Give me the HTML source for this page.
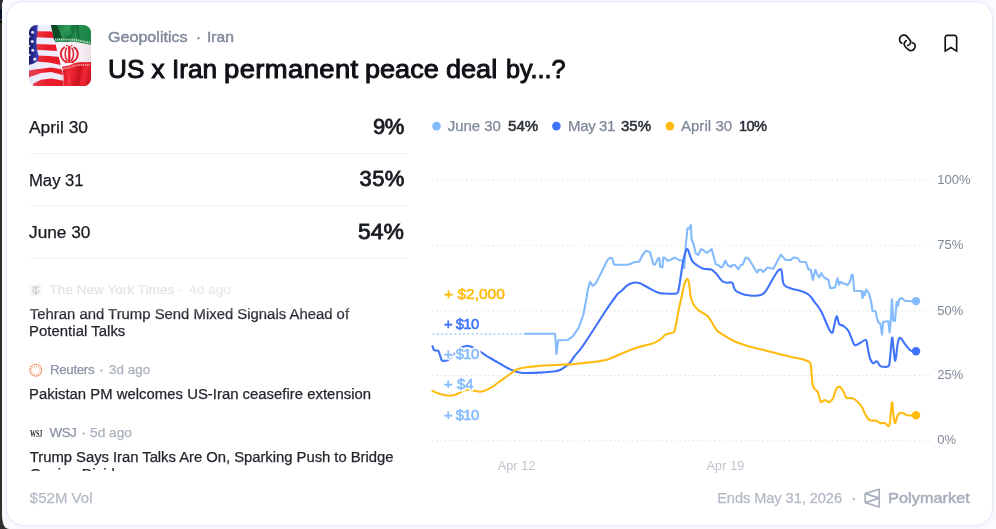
<!DOCTYPE html>
<html lang="en">
<head>
<meta charset="utf-8">
<title>US x Iran permanent peace deal by...?</title>
<style>
html,body{margin:0;padding:0;}
body{width:996px;height:529px;overflow:hidden;position:relative;background:#fafbfe;font-family:"Liberation Sans",Arial,sans-serif;}
.edge{position:absolute;left:0;top:0;width:2.2px;height:529px;background:#2f2f2f;}
.edge i{position:absolute;left:0;width:2.2px;display:block;}
.card{position:absolute;left:5.8px;top:0.8px;width:985px;height:523.4px;border:1.2px solid #e6e9f8;border-radius:18px;background:#fff;box-shadow:0 0 4px rgba(225,230,248,0.5);}
.t{position:absolute;white-space:nowrap;line-height:1;transform-origin:0 0;}
.chart{position:absolute;left:0;top:0;}
.div{position:absolute;left:29.5px;width:376.5px;height:1.2px;background:#eef0f4;}
.news{position:absolute;left:0;top:272px;width:420px;height:199px;overflow:hidden;-webkit-mask-image:linear-gradient(to bottom,rgba(0,0,0,0.18) 0,rgba(0,0,0,0.3) 26px,#000 44px,#000 100%);mask-image:linear-gradient(to bottom,rgba(0,0,0,0.18) 0,rgba(0,0,0,0.3) 26px,#000 44px,#000 100%);}
.newsin{position:absolute;left:0;top:0;width:420px;height:230px;}
.ic{position:absolute;}
.g{margin:0;padding:0;font:inherit;font-family:inherit;display:block;height:0;}
</style>
</head>
<body>
<div class="card"></div>
<div class="edge"><i style="top:9px;height:10px;background:#0a1630"></i><i style="top:20.5px;height:2px;background:#050505"></i></div>
<svg class="chart" width="996" height="529" viewBox="0 0 996 529">
<!-- bottom-left dark window corner -->
<path d="M0 517 Q0.5 529 9 529 L0 529 Z" fill="#2f2f2f"/>
<path d="M0 0 L3.2 0 L2.2 3.4 L0 3.4 Z" fill="#303030"/>
<path d="M2 515 L2 529 L9 529 Q2.5 529 2 515 Z" fill="#2f2f2f"/>
</svg>
<!-- FLAG -->
<svg class="ic" style="left:28.8px;top:24.8px" width="62" height="61.3" viewBox="0 0 62 61.3">
<defs>
<clipPath id="fc"><rect x="0" y="0" width="62" height="61.3" rx="7.6" ry="7.6"/></clipPath>
<filter id="fb" x="-5%" y="-5%" width="110%" height="110%"><feGaussianBlur stdDeviation="0.5"/></filter>
<filter id="fb2" x="-20%" y="-20%" width="140%" height="140%"><feGaussianBlur stdDeviation="0.3"/></filter>
<linearGradient id="gsh" x1="0" x2="1" y1="0" y2="0"><stop offset="0" stop-color="#b9b4e8" stop-opacity="0.25"/><stop offset="0.5" stop-color="#fff" stop-opacity="0"/><stop offset="0.8" stop-color="#8a3050" stop-opacity="0"/><stop offset="1" stop-color="#7a2040" stop-opacity="0.28"/></linearGradient>
<linearGradient id="ggr" x1="0" x2="1" y1="0" y2="0.25"><stop offset="0" stop-color="#0a4a25"/><stop offset="0.16" stop-color="#1b7a43"/><stop offset="0.4" stop-color="#2a9556"/><stop offset="0.56" stop-color="#17703c"/><stop offset="0.7" stop-color="#25904f"/><stop offset="1" stop-color="#1d8448"/></linearGradient>
<linearGradient id="grd" x1="0" x2="1" y1="0" y2="0.2"><stop offset="0" stop-color="#e21a27"/><stop offset="0.35" stop-color="#f02634"/><stop offset="0.55" stop-color="#d81825"/><stop offset="0.8" stop-color="#ee2633"/><stop offset="1" stop-color="#c81422"/></linearGradient>
<linearGradient id="gwh" x1="0" x2="1" y1="0" y2="0.2"><stop offset="0" stop-color="#efe6f0"/><stop offset="0.3" stop-color="#fbf6fa"/><stop offset="0.8" stop-color="#f6edf3"/><stop offset="1" stop-color="#ecdfe8"/></linearGradient>
<linearGradient id="gbl" x1="0" x2="1" y1="0" y2="0"><stop offset="0" stop-color="#10145a"/><stop offset="0.55" stop-color="#262a8c"/><stop offset="1" stop-color="#4747c4"/></linearGradient>
</defs>
<g clip-path="url(#fc)"><g filter="url(#fb)">
<rect x="-2" y="-2" width="66" height="66" fill="#efedfb"/>
<path d="M7 6.2 L24 6.6 L25 12.9 L7 12.2 Z" fill="#ea1c29" opacity="1"/><path d="M6.5 18.9 L27 19.7 L28.5 26.1 L6.5 24.7 Z" fill="#ea1c29" opacity="1"/><path d="M8 30.6 L20 31 L34 32.2 L34 40.5 L20 37.4 L9 36.8 Z" fill="#ea1c29" opacity="1"/><path d="M-1 45.8 L6 44.6 L12 43.7 L22 42.5 L28 43.4 L36 45.2 L36 50.6 L28 48.6 L22 47.0 L12 48.0 L6 50.2 L-1 52.4 Z" fill="#ea1c29" opacity="1"/><path d="M2 61.5 L5 58.3 L12 54.7 L22 53.4 L28 54.6 L37 56.2 L37 66 L2 66 Z" fill="#ea1c29" opacity="1"/>
<rect x="-2" y="-2" width="40" height="66" fill="url(#gsh)"/>
<path d="M-2 -2 L8.8 -2 L8.3 8 L7.3 16 L7.9 24 L9.6 31 L9 36 L4 38.8 L-2 40.6 Z" fill="url(#gbl)"/>
<circle cx="3.6" cy="7.2" r="1.5" fill="#fff" opacity="0.85"/><circle cx="3.2" cy="16.5" r="1.6" fill="#fff" opacity="0.85"/><circle cx="3.8" cy="25.2" r="1.5" fill="#fff" opacity="0.85"/><circle cx="5.8" cy="34.2" r="1.6" fill="#fff" opacity="0.85"/><circle cx="0.4" cy="11.5" r="1.1" fill="#fff" opacity="0.85"/><circle cx="0.3" cy="21" r="1.1" fill="#fff" opacity="0.85"/><circle cx="0.6" cy="30" r="1.1" fill="#fff" opacity="0.85"/>
<!-- iran -->
<path d="M21.6 -2 L64 -2 L64 64 L34.4 64 L34.7 52 L32.3 43.3 L30.7 35.4 L28.2 26.4 L26.4 17.3 L24.3 11.2 Z" fill="url(#gwh)"/>
<path d="M21.6 -2 L64 -2 L64 19.6 L60 19.4 L46 16.8 L30 17.0 L26.3 17.2 L24.3 11.2 Z" fill="url(#ggr)"/>
<path d="M21.6 -2 L27 -2 L30.5 6 L33 13 L25 15.5 Z" fill="#06351a" opacity="0.7"/>
<path d="M47.2 -2 L49.2 -2 L50.6 13.5 L48.8 13.5 Z" fill="#0a4a24" opacity="0.55"/>
<path d="M36 2 L41 0 L43 9 L38 11 Z" fill="#38a866" opacity="0.45"/>
<path d="M26 14.6 L30 14.4 L46 14.8 L61 17.8" fill="none" stroke="#d6eadb" stroke-width="1.9" stroke-dasharray="1.2 0.7" opacity="0.85"/>
<path d="M33.2 41.8 L40 40.5 L45 38.3 L50 37.2 L64 36.9 L64 64 L34.4 64 L34.7 52 Z" fill="url(#grd)"/>
<path d="M50 42 L53 41 L50 64 L46 64 Z" fill="#b50e1b" opacity="0.45"/>
<path d="M38 47 L40 46 L43 64 L40 64 Z" fill="#ff5560" opacity="0.35"/>
<path d="M33.6 44 L40 42.6 L45 40.7 L50 39.9 L61 40.1" fill="none" stroke="#f7b3b8" stroke-width="1.7" stroke-dasharray="1.2 0.7" opacity="0.9"/>
</g>
<!-- emblem -->
<g fill="none" stroke="#e51f2c" stroke-linecap="round" filter="url(#fb2)">
<path d="M40.3 22.6 V36.4" stroke-width="2.3"/>
<path d="M37.6 23.2 C35.6 26 35.4 31.5 38.2 35.6" stroke-width="1.5"/>
<path d="M43.0 23.2 C45.0 26 45.2 31.5 42.4 35.6" stroke-width="1.5"/>
<path d="M35.2 22.4 C30.4 26 30.6 33.6 37.0 36.9" stroke-width="1.9"/>
<path d="M45.4 22.4 C50.2 26 50.0 33.6 43.6 36.9" stroke-width="1.9"/>
<path d="M37.6 20.4 C39 21.6 41.6 21.6 43 20.4" stroke-width="1.2"/>
<path d="M36.4 37.3 H44.6" stroke-width="1.0"/>
</g>
</g>
</svg>
<!-- ICONS -->
<svg class="chart" width="996" height="529" viewBox="0 0 996 529">
<g fill="none" stroke="#121317" stroke-width="1.65" stroke-linecap="round" stroke-linejoin="round">
<path d="M901.86 43.26 C901.31 42.77 900.94 42.95 900.20 41.80 C899.46 40.65 899.75 41.12 899.65 39.82 C899.55 38.52 899.49 39.05 899.90 37.90 C900.31 36.75 900.11 37.18 900.88 36.38 C901.65 35.58 901.22 35.91 902.20 35.50 C903.18 35.09 902.75 35.19 903.82 35.16 C904.89 35.13 904.42 34.99 905.40 35.40 C906.38 35.81 905.17 34.66 906.77 36.38 C908.37 38.10 908.95 38.69 910.21 40.56 C911.47 42.43 910.47 41.22 910.55 42.00 C910.63 42.78 910.73 42.15 910.45 42.90 C910.17 43.65 910.62 43.38 909.72 44.24 C908.82 45.10 908.41 45.06 907.75 45.47"/>
<path d="M906.28 40.56 C905.71 41.21 905.25 41.51 904.56 42.52 C903.87 43.53 904.28 42.86 904.20 43.60 C904.12 44.34 903.94 43.70 904.31 44.73 C904.68 45.76 903.99 45.14 905.30 46.70 C906.61 48.26 906.81 48.20 908.24 49.40 C909.67 50.60 908.62 49.92 909.60 50.30 C910.58 50.68 910.16 50.56 911.19 50.53 C912.22 50.50 911.80 50.66 912.70 50.20 C913.60 49.74 913.19 49.95 913.89 49.15 C914.59 48.35 914.39 48.78 914.80 47.80 C915.21 46.82 915.09 47.18 915.12 46.21 C915.15 45.24 915.15 45.72 914.90 44.90 C914.65 44.08 915.21 44.49 914.38 43.75 C913.55 43.01 913.07 43.03 912.42 42.67"/>
</g>
<path d="M945.2 51.1 V37.5 a2.1 2.1 0 0 1 2.1-2.1 H954.55 a2.1 2.1 0 0 1 2.1 2.1 V51.1 L950.9 47.5 Z" fill="none" stroke="#121317" stroke-width="1.65" stroke-linejoin="miter" stroke-miterlimit="3"/>
<!-- legend dots -->
<circle cx="436.5" cy="126.1" r="4.3" fill="#84bbfd"/>
<circle cx="556.4" cy="126.1" r="4.3" fill="#3f73fb"/>
<circle cx="669.9" cy="126.1" r="4.3" fill="#ffbb0f"/>
<!-- polymarket logo -->
<g fill="none" stroke="#a9b0bd" stroke-width="1.7" stroke-linejoin="round">
<path d="M865.2 493.6 L879.2 489.3 V507 L865.2 502.6 Z"/>
<path d="M865.2 493.6 L879.2 498.1 L865.2 502.6"/>
</g>
</svg>
<div class="div" style="top:152.5px"></div>
<div class="div" style="top:205px"></div>
<div class="div" style="top:257.6px"></div>

<svg class="chart" width="996" height="529" viewBox="0 0 996 529">
<line x1="431.8" x2="929" y1="180.3" y2="180.3" stroke="#d3d7df" stroke-width="1.05" stroke-dasharray="1.05 3.3"/>
<line x1="431.8" x2="929" y1="245.7" y2="245.7" stroke="#d3d7df" stroke-width="1.05" stroke-dasharray="1.05 3.3"/>
<line x1="431.8" x2="929" y1="311.0" y2="311.0" stroke="#d3d7df" stroke-width="1.05" stroke-dasharray="1.05 3.3"/>
<line x1="431.8" x2="929" y1="375.4" y2="375.4" stroke="#d3d7df" stroke-width="1.05" stroke-dasharray="1.05 3.3"/>
<line x1="431.8" x2="929" y1="440.7" y2="440.7" stroke="#d3d7df" stroke-width="1.05" stroke-dasharray="1.05 3.3"/>
<line x1="432.5" x2="525" y1="333.8" y2="333.8" stroke="#84bbfd" stroke-width="1.8" stroke-dasharray="2 2.35" opacity="0.6"/>
<path d="M525.0 333.8 L555.0 333.8 L555.6 340.0 L556.4 354.0 L557.3 347.0 L558.2 340.5 L560.0 340.3 L567.5 340.0 L572.5 336.7 L578.3 328.3 L583.3 315.0 L586.0 301.0 L587.8 290.0 L590.0 281.7 L592.5 285.8 L595.8 283.3 L601.7 271.7 L607.5 260.0 L610.0 257.7 L612.0 258.0 L614.2 264.7 L628.3 264.7 L635.0 262.0 L639.2 261.7 L642.5 255.0 L645.8 250.8 L650.0 252.0 L653.3 264.2 L655.0 264.7 L658.3 258.0 L659.5 258.3 L660.2 267.0 L662.5 267.3 L663.3 257.5 L665.0 258.0 L667.5 260.8 L670.8 259.7 L675.0 257.5 L678.3 259.7 L682.5 260.8 L684.2 268.3 L685.8 245.0 L687.5 228.3 L689.2 228.7 L690.8 225.0 L691.7 240.0 L693.3 243.3 L695.8 253.3 L698.3 255.0 L700.8 249.2 L703.3 250.0 L706.7 253.0 L711.7 249.2 L715.8 264.2 L718.3 265.0 L720.8 267.5 L722.5 266.7 L725.3 260.8 L727.5 265.0 L730.8 267.0 L732.5 265.0 L735.0 265.0 L738.3 269.2 L740.8 265.0 L742.5 264.7 L745.8 257.5 L748.3 258.3 L752.5 265.0 L755.0 269.2 L757.0 272.5 L759.2 269.7 L761.3 269.7 L763.3 272.0 L767.5 267.5 L773.3 268.7 L776.7 262.5 L780.8 254.7 L783.3 257.5 L785.8 260.0 L790.8 260.0 L793.3 257.5 L797.5 258.0 L800.0 261.7 L805.8 262.0 L808.3 269.2 L810.8 270.0 L812.8 280.0 L815.3 269.7 L817.5 275.0 L819.2 277.5 L821.3 273.0 L824.2 277.5 L828.3 279.7 L830.3 288.3 L835.0 287.5 L837.5 278.3 L839.2 285.0 L840.0 281.7 L843.3 283.3 L845.8 284.2 L847.5 285.0 L850.0 281.7 L851.7 274.7 L852.8 275.0 L854.2 290.8 L861.7 291.0 L862.5 298.3 L863.9 292.0 L864.8 295.0 L866.3 289.5 L868.8 293.0 L871.0 301.0 L872.5 310.8 L875.8 311.7 L876.7 316.7 L878.3 322.5 L880.3 323.3 L882.0 334.7 L883.3 321.7 L888.3 321.3 L889.7 332.5 L890.8 320.0 L892.0 299.2 L893.3 320.8 L895.0 320.8 L896.7 301.7 L898.0 305.8 L899.2 299.2 L901.7 298.0 L905.0 300.8 L911.7 301.2 L916.0 301.1" fill="none" stroke="#84bbfd" stroke-width="2.1" stroke-linejoin="round" stroke-linecap="round"/>
<path d="M432.5 346.2 C432.8 346.9 433.3 348.9 434.0 349.8 C434.5 350.5 435.0 350.4 435.8 350.6 C436.6 350.8 437.4 350.0 438.2 350.8 C439.0 351.6 439.2 352.8 439.8 354.5 C440.5 356.4 440.9 359.0 441.8 360.3 C442.5 361.3 443.3 360.8 444.5 360.8 C445.7 360.8 446.5 361.0 447.7 360.2 C449.2 359.2 450.1 357.9 452.0 356.0 C454.5 353.6 457.4 350.0 460.0 348.0 C461.9 346.6 463.3 346.6 465.0 346.2 C466.5 345.8 467.0 345.7 468.5 346.0 C470.3 346.4 471.7 346.8 474.0 348.0 C476.6 349.3 478.3 350.6 481.7 352.7 C485.1 354.8 487.2 356.2 491.0 358.5 C494.8 360.8 497.2 362.1 500.6 364.0 C503.9 365.9 505.0 366.7 508.0 368.2 C511.0 369.7 512.7 370.6 515.7 371.6 C518.7 372.6 519.7 372.9 523.0 373.0 C527.9 373.2 533.5 373.0 540.0 372.6 C546.5 372.2 551.4 371.7 555.4 371.2 C557.5 370.9 558.1 370.9 560.0 370.0 C561.9 369.1 563.0 368.4 565.0 366.9 C567.0 365.4 568.1 364.6 570.0 362.5 C571.9 360.4 572.3 359.1 574.3 356.5 C576.6 353.5 578.6 351.8 581.7 347.5 C585.5 342.2 588.6 337.2 593.3 330.0 C598.0 322.8 601.5 317.1 605.0 311.7 C607.6 307.7 609.0 305.8 611.0 303.0 C612.8 300.5 613.5 299.4 615.0 297.5 C616.4 295.6 616.8 294.8 618.3 293.3 C619.8 291.8 620.8 291.5 622.5 290.0 C624.2 288.5 625.0 287.1 626.7 285.8 C628.4 284.5 629.2 284.2 631.0 283.5 C632.8 282.8 634.0 282.5 635.8 282.5 C637.6 282.5 638.5 282.8 640.0 283.3 C641.5 283.8 641.8 284.2 643.3 285.0 C644.9 285.8 646.0 286.4 648.0 287.5 C650.0 288.6 651.4 289.4 653.3 290.4 C655.2 291.3 655.8 291.7 657.5 292.3 C659.2 292.9 659.7 293.3 661.7 293.4 C665.5 293.6 673.3 294.3 676.7 293.4 C678.8 292.9 678.2 291.1 678.7 289.0 C679.5 285.9 679.7 282.8 680.5 278.0 C681.3 273.2 681.7 269.4 682.5 265.0 C683.2 260.9 683.6 258.8 684.3 256.0 C684.9 253.6 685.2 252.2 685.8 250.8 C686.2 249.8 686.8 248.7 687.5 249.2 C688.2 249.7 688.5 251.4 689.2 253.3 C690.0 255.5 690.7 258.1 691.7 260.0 C692.5 261.5 693.0 262.0 694.0 263.0 C695.0 264.0 695.5 264.2 696.7 265.0 C697.9 265.8 698.7 266.5 700.0 267.2 C701.3 267.9 701.7 268.4 703.3 268.7 C705.6 269.2 709.6 269.1 711.7 269.7 C713.0 270.0 713.0 270.6 714.0 271.5 C715.0 272.4 715.7 273.0 716.7 274.2 C717.7 275.4 718.0 276.0 719.0 277.3 C720.0 278.6 720.8 279.6 721.7 280.5 C722.3 281.1 722.5 281.3 723.3 281.7 C724.3 282.1 725.1 282.5 726.7 282.7 C728.4 282.9 730.6 281.9 732.0 282.7 C733.4 283.5 732.9 285.1 733.7 286.7 C734.5 288.3 734.2 289.4 735.8 290.8 C737.4 292.2 739.2 292.8 741.7 293.7 C744.2 294.6 745.6 294.9 748.3 295.3 C751.0 295.7 752.5 295.9 755.0 295.8 C757.5 295.7 759.0 295.6 760.8 295.0 C762.5 294.5 762.9 294.3 764.2 293.0 C765.5 291.7 766.1 290.5 767.5 288.3 C769.0 285.9 769.9 284.0 771.7 280.8 C773.5 277.6 775.2 274.7 776.7 272.5 C777.6 271.1 778.3 270.3 779.2 269.7 C780.0 269.2 780.8 268.9 781.2 269.7 C781.8 270.8 781.8 272.6 782.2 275.0 C782.6 277.7 782.6 281.0 783.3 283.3 C783.8 285.0 784.3 285.3 785.8 286.3 C787.5 287.4 789.0 287.8 791.7 288.7 C794.5 289.6 797.0 289.9 800.0 290.8 C803.0 291.7 804.5 292.1 806.7 293.3 C808.8 294.4 809.3 295.0 810.8 296.7 C812.3 298.4 812.7 299.7 814.2 301.7 C815.7 303.7 816.7 304.4 818.3 306.7 C819.9 309.0 820.6 310.0 822.0 313.0 C823.8 316.8 825.9 322.2 827.5 325.8 C828.5 328.1 829.0 329.5 830.0 330.8 C830.8 331.9 831.7 333.5 832.5 332.5 C833.3 331.5 833.4 328.8 834.2 325.8 C835.0 322.6 835.7 316.6 836.7 316.3 C837.7 316.0 837.9 322.3 839.2 324.2 C840.3 325.8 841.7 324.6 843.3 325.8 C845.1 327.1 846.6 328.1 848.3 330.8 C850.1 333.8 851.2 337.9 852.5 340.8 C853.5 342.9 853.5 344.9 855.0 345.3 C856.5 345.7 857.8 344.1 860.0 343.0 C862.2 341.9 864.3 339.3 865.8 340.0 C867.3 340.7 866.8 343.7 867.5 346.7 C868.3 350.4 868.8 355.0 870.0 358.3 C870.9 360.8 872.0 362.7 873.3 363.3 C874.6 363.9 875.4 360.8 876.7 361.3 C878.0 361.8 878.8 364.7 880.0 365.8 C880.9 366.6 881.3 366.6 882.5 366.7 C884.2 366.8 886.9 367.3 888.3 366.3 C889.7 365.3 889.4 363.8 889.7 361.7 C890.4 356.1 891.3 341.3 892.0 338.3 C892.7 335.3 892.7 342.9 893.3 346.7 C894.0 351.2 894.5 361.1 895.3 360.8 C896.1 360.5 896.7 349.5 897.5 345.0 C898.0 341.9 898.4 339.6 899.2 338.3 C899.7 337.5 900.6 338.0 901.3 338.7 C902.5 339.9 903.3 341.9 905.0 344.2 C906.7 346.5 908.3 348.6 910.0 350.0 C911.2 351.0 912.1 351.1 913.3 351.3 C914.5 351.5 915.5 351.2 916.0 351.2" fill="none" stroke="#3f73fb" stroke-width="2.1" stroke-linejoin="round" stroke-linecap="round"/>
<path d="M432.5 391.0 C434.0 391.6 436.6 393.0 440.0 394.0 C443.4 395.0 446.4 395.7 449.6 395.8 C452.5 395.9 453.5 395.4 456.0 394.5 C458.5 393.6 459.9 392.4 462.0 391.5 C464.0 390.6 464.4 390.2 466.6 390.0 C468.8 389.8 470.4 390.2 473.0 390.5 C475.6 390.8 477.4 391.6 479.8 391.6 C482.2 391.6 482.8 391.3 485.0 390.5 C487.2 389.7 488.6 389.1 491.0 387.7 C493.4 386.3 494.3 385.4 497.0 383.5 C499.7 381.6 501.8 380.1 504.4 378.2 C506.9 376.3 507.7 375.6 510.0 374.0 C512.3 372.4 513.5 371.2 515.7 370.0 C517.9 368.8 518.7 368.8 521.0 368.2 C523.3 367.6 524.3 367.6 527.0 367.2 C530.2 366.8 532.8 366.5 537.0 366.1 C541.2 365.7 543.4 365.6 548.0 365.3 C552.6 365.0 555.9 365.0 560.0 364.8 C563.9 364.6 565.4 364.6 568.7 364.4 C572.0 364.2 573.1 364.1 576.7 363.7 C581.6 363.2 588.6 362.5 593.3 362.0 C596.3 361.6 597.3 361.5 600.0 361.0 C602.7 360.5 604.3 360.3 606.7 359.7 C609.1 359.1 609.7 358.7 612.0 357.8 C614.3 356.9 615.9 356.1 618.3 355.0 C620.7 353.9 621.7 353.5 624.0 352.5 C626.3 351.5 627.8 350.9 630.0 350.0 C632.2 349.1 633.0 348.9 635.0 348.2 C637.0 347.5 637.8 347.3 640.0 346.7 C642.2 346.1 643.7 345.8 646.0 345.2 C648.3 344.6 649.7 344.3 651.7 343.7 C653.7 343.1 654.3 342.8 656.0 342.0 C657.7 341.2 658.7 340.6 660.0 339.7 C661.2 338.8 661.5 338.4 662.5 337.5 C663.5 336.6 663.8 335.8 665.0 335.0 C666.2 334.2 666.8 334.2 668.3 333.7 C670.0 333.2 672.0 333.4 673.3 332.5 C674.6 331.6 674.5 330.8 675.0 329.2 C675.6 327.1 675.9 325.3 676.5 322.0 C677.2 318.5 677.5 315.6 678.3 311.7 C679.1 307.8 679.6 305.5 680.3 302.5 C680.9 299.9 681.1 299.3 681.7 296.7 C682.5 293.2 683.2 288.5 684.2 285.0 C685.0 282.3 685.9 280.2 686.7 279.2 C687.2 278.6 688.0 279.2 688.3 280.0 C688.9 281.6 689.0 283.8 689.5 287.0 C690.0 290.4 690.0 293.6 690.8 297.0 C691.5 300.3 692.5 302.3 693.3 304.2 C693.8 305.4 694.1 305.7 695.0 306.7 C696.0 307.9 696.9 308.8 698.3 310.0 C699.7 311.2 700.3 311.4 702.0 312.5 C703.7 313.6 705.3 314.3 706.7 315.4 C707.9 316.3 708.1 316.6 709.0 317.8 C710.0 319.1 710.7 320.4 711.7 322.0 C712.7 323.6 713.0 324.4 714.0 326.0 C715.0 327.6 715.5 328.6 716.7 330.0 C717.9 331.4 718.7 331.8 720.0 332.8 C721.3 333.8 721.8 334.1 723.3 335.0 C726.0 336.6 728.6 338.6 733.3 340.8 C738.0 343.0 740.7 344.0 746.7 345.8 C752.7 347.6 756.6 348.3 763.3 350.0 C770.0 351.7 774.7 352.9 780.0 354.2 C784.5 355.3 786.0 355.8 790.0 356.7 C794.0 357.6 796.7 357.9 800.0 358.7 C803.1 359.5 804.7 359.9 806.7 360.8 C808.4 361.5 809.4 361.3 810.2 363.0 C811.1 364.8 810.9 366.8 811.3 370.0 C811.8 374.2 812.0 380.3 812.6 384.0 C812.9 386.0 813.2 386.8 814.2 388.3 C815.2 389.8 816.5 390.2 817.5 391.7 C818.5 393.2 818.4 394.0 819.0 396.0 C819.7 398.1 820.0 401.0 820.8 402.0 C821.5 402.8 822.2 401.4 823.0 401.0 C823.8 400.6 824.2 400.0 825.0 400.0 C825.8 400.0 826.2 400.6 827.0 401.0 C827.8 401.4 828.1 402.6 829.2 402.2 C830.3 401.8 831.4 400.8 832.5 399.2 C833.6 397.6 833.7 396.2 834.5 394.0 C835.3 391.8 835.7 389.8 836.7 388.3 C837.6 387.1 838.5 386.4 839.7 386.7 C840.9 387.0 841.5 388.5 842.5 390.0 C843.5 391.5 843.7 392.4 844.5 394.0 C845.3 395.6 845.1 397.1 846.7 398.0 C848.3 398.9 850.3 397.6 852.5 398.3 C854.7 399.0 855.7 400.0 857.5 401.7 C859.3 403.4 860.4 404.7 861.7 406.7 C863.0 408.7 863.0 409.5 864.0 411.5 C865.0 413.5 865.5 414.9 866.7 416.7 C867.9 418.5 868.0 419.5 870.0 420.3 C872.0 421.1 874.7 420.3 876.7 420.8 C878.4 421.3 878.3 422.5 880.0 423.0 C881.7 423.5 883.3 422.6 885.0 423.3 C886.7 424.0 887.7 426.6 888.7 426.3 C889.7 426.0 889.7 423.8 890.0 421.7 C890.7 416.9 891.3 404.2 892.0 402.5 C892.7 400.8 892.7 409.2 893.3 413.3 C893.9 417.4 894.2 422.5 895.0 423.0 C895.8 423.5 896.5 417.8 897.5 415.8 C898.3 414.3 898.8 413.5 900.0 413.0 C901.2 412.5 901.9 412.9 903.3 413.3 C904.8 413.8 905.5 414.9 907.5 415.3 C909.5 415.7 911.6 415.3 913.3 415.3 C914.5 415.3 915.5 415.3 916.0 415.3" fill="none" stroke="#ffbb0f" stroke-width="2.1" stroke-linejoin="round" stroke-linecap="round"/>
<circle cx="916" cy="301.1" r="4.2" fill="#84bbfd"/>
<circle cx="916" cy="351.2" r="4.2" fill="#3f73fb"/>
<circle cx="916" cy="415.3" r="4.2" fill="#ffbb0f"/>
</svg>
<div class="g cat">
<span class="t" style="left:108.3px;top:29px;font-size:15px;color:#7f899b;transform:scaleX(1.0727);-webkit-text-stroke:0.45px #7f899b;">Geopolitics</span>
<span class="t" style="left:196.0px;top:29px;font-size:15px;color:#7f899b;-webkit-text-stroke:0.45px #7f899b;">·</span>
<span class="t" style="left:207.4px;top:29px;font-size:15px;color:#7f899b;transform:scaleX(1.0402);-webkit-text-stroke:0.45px #7f899b;">Iran</span>
</div>
<h1 class="g">
<span class="t" style="left:107.6px;top:57px;font-size:25.3px;color:#0e1015;transform:scaleX(1.0338);-webkit-text-stroke:0.95px #0e1015;">US x Iran</span>
<span class="t" style="left:223.6px;top:57px;font-size:25.3px;color:#0e1015;letter-spacing:0.342px;transform:scaleX(1.0850);-webkit-text-stroke:0.95px #0e1015;">permanent</span>
<span class="t" style="left:364.8px;top:57px;font-size:25.3px;color:#0e1015;transform:scaleX(1.0705);-webkit-text-stroke:0.95px #0e1015;">peace</span>
<span class="t" style="left:446.4px;top:57px;font-size:25.3px;color:#0e1015;transform:scaleX(1.0705);-webkit-text-stroke:0.95px #0e1015;">deal</span>
<span class="t" style="left:505.9px;top:57px;font-size:25.3px;color:#0e1015;letter-spacing:-0.060px;-webkit-text-stroke:0.95px #0e1015;">by...?</span>
</h1>
<div class="g outcomes">
<span class="t" style="left:29.2px;top:120px;font-size:16px;color:#181b21;letter-spacing:0.018px;transform:scaleX(1.0850);-webkit-text-stroke:0.25px #181b21;">April 30</span>
<span class="t" style="left:29.2px;top:173px;font-size:16px;color:#181b21;transform:scaleX(1.0406);-webkit-text-stroke:0.25px #181b21;">May 31</span>
<span class="t" style="left:29.4px;top:225px;font-size:16px;color:#181b21;transform:scaleX(1.0784);-webkit-text-stroke:0.25px #181b21;">June 30</span>
<span class="t" style="left:372.9px;top:116px;font-size:22px;color:#181b21;letter-spacing:-0.297px;-webkit-text-stroke:0.8px #181b21;">9%</span>
<span class="t" style="left:359.6px;top:168px;font-size:22px;color:#181b21;letter-spacing:0.377px;-webkit-text-stroke:0.8px #181b21;">35%</span>
<span class="t" style="left:358.4px;top:221px;font-size:22px;color:#181b21;transform:scaleX(1.0443);-webkit-text-stroke:0.8px #181b21;">54%</span>
</div>
<div class="g legend">
<span class="t" style="left:447.8px;top:118px;font-size:15px;color:#7d8799;letter-spacing:-0.048px;-webkit-text-stroke:0.25px #7d8799;">June 30</span>
<span class="t" style="left:507.6px;top:119px;font-size:14.6px;color:#2b2f38;transform:scaleX(1.0370);-webkit-text-stroke:0.5px #2b2f38;">54%</span>
<span class="t" style="left:568.1px;top:118px;font-size:15px;color:#7d8799;letter-spacing:-0.401px;-webkit-text-stroke:0.25px #7d8799;">May 31</span>
<span class="t" style="left:621.4px;top:119px;font-size:14.6px;color:#2b2f38;transform:scaleX(1.0267);-webkit-text-stroke:0.5px #2b2f38;">35%</span>
<span class="t" style="left:680.9px;top:118px;font-size:15px;color:#7d8799;letter-spacing:0.063px;-webkit-text-stroke:0.25px #7d8799;">April 30</span>
<span class="t" style="left:738.9px;top:119px;font-size:14.6px;color:#2b2f38;letter-spacing:-0.500px;-webkit-text-stroke:0.5px #2b2f38;">10%</span>
</div>
<div class="g axis">
<span class="t" style="left:937.3px;top:173px;font-size:13px;color:#7e8797;">100%</span>
<span class="t" style="left:937.3px;top:238px;font-size:13px;color:#7e8797;">75%</span>
<span class="t" style="left:937.3px;top:304px;font-size:13px;color:#7e8797;">50%</span>
<span class="t" style="left:937.3px;top:368px;font-size:13px;color:#7e8797;">25%</span>
<span class="t" style="left:937.3px;top:433px;font-size:13px;color:#7e8797;">0%</span>
<span class="t" style="left:497.7px;top:460px;font-size:12.6px;color:#bfc4cd;letter-spacing:0.118px;">Apr 12</span>
<span class="t" style="left:706.6px;top:460px;font-size:12.6px;color:#bfc4cd;letter-spacing:0.118px;">Apr 19</span>
</div>
<div class="g trades">
<span class="t" style="left:443.9px;top:287px;font-size:14.8px;color:#ffbb0f;transform:scaleX(1.0497);-webkit-text-stroke:0.55px #ffbb0f;text-shadow:2px 0 #fff,-2px 0 #fff,0 2px #fff,0 -2px #fff,1.5px 1.5px #fff,-1.5px 1.5px #fff,1.5px -1.5px #fff,-1.5px -1.5px #fff,0 0 3px #fff,0 0 3px #fff,0 0 2px #fff;">+ $2,000</span>
<span class="t" style="left:443.9px;top:317px;font-size:14.8px;color:#3f73fb;letter-spacing:-0.500px;-webkit-text-stroke:0.55px #3f73fb;text-shadow:2px 0 #fff,-2px 0 #fff,0 2px #fff,0 -2px #fff,1.5px 1.5px #fff,-1.5px 1.5px #fff,1.5px -1.5px #fff,-1.5px -1.5px #fff,0 0 3px #fff,0 0 3px #fff,0 0 2px #fff;">+ $10</span>
<span class="t" style="left:443.9px;top:347px;font-size:14.8px;color:#84bbfd;letter-spacing:-0.500px;-webkit-text-stroke:0.55px #84bbfd;text-shadow:2px 0 #fff,-2px 0 #fff,0 2px #fff,0 -2px #fff,1.5px 1.5px #fff,-1.5px 1.5px #fff,1.5px -1.5px #fff,-1.5px -1.5px #fff,0 0 3px #fff,0 0 3px #fff,0 0 2px #fff;">+ $10</span>
<span class="t" style="left:443.9px;top:377px;font-size:14.8px;color:#84bbfd;letter-spacing:0.160px;-webkit-text-stroke:0.55px #84bbfd;text-shadow:2px 0 #fff,-2px 0 #fff,0 2px #fff,0 -2px #fff,1.5px 1.5px #fff,-1.5px 1.5px #fff,1.5px -1.5px #fff,-1.5px -1.5px #fff,0 0 3px #fff,0 0 3px #fff,0 0 2px #fff;">+ $4</span>
<span class="t" style="left:443.9px;top:408px;font-size:14.8px;color:#84bbfd;letter-spacing:-0.500px;-webkit-text-stroke:0.55px #84bbfd;text-shadow:2px 0 #fff,-2px 0 #fff,0 2px #fff,0 -2px #fff,1.5px 1.5px #fff,-1.5px 1.5px #fff,1.5px -1.5px #fff,-1.5px -1.5px #fff,0 0 3px #fff,0 0 3px #fff,0 0 2px #fff;">+ $10</span>
</div>
<footer class="g">
<span class="t" style="left:29.8px;top:490px;font-size:15px;color:#b3b9c5;letter-spacing:0.022px;-webkit-text-stroke:0.25px #b3b9c5;">$52M Vol</span>
<span class="t" style="left:717.2px;top:491px;font-size:14.6px;color:#b3b9c5;letter-spacing:-0.059px;-webkit-text-stroke:0.25px #b3b9c5;">Ends May 31, 2026</span>
<span class="t" style="left:851.2px;top:490px;font-size:15px;color:#b3b9c5;-webkit-text-stroke:0.6px #b3b9c5;">·</span>
<span class="t" style="left:888.3px;top:490px;font-size:15px;color:#a9b0bd;letter-spacing:0.050px;transform:scaleX(1.0850);-webkit-text-stroke:0.55px #a9b0bd;">Polymarket</span>
</footer>
<div class="news"><div class="newsin">
<svg class="ic" style="left:0;top:0" width="420" height="230" viewBox="0 0 420 230">
<rect x="29.4" y="11.800000000000011" width="12.6" height="12.2" rx="2.2" fill="#e4e5e9"/>
<g fill="none" stroke="#3a3c42" stroke-linecap="round"><path d="M32.6 15.199999999999989 C34 14.399999999999977 36.5 15.600000000000023 38.8 14.600000000000023" stroke-width="1.3"/><path d="M35.9 15.600000000000023 V21.399999999999977" stroke-width="1.5"/><path d="M34.2 16.600000000000023 C32.2 17.600000000000023 32.2 20.80000000000001 35.2 21.600000000000023 C37.6 22 39 20.399999999999977 38.8 18.600000000000023" stroke-width="1.1"/></g>
<g fill="#f0632a"><circle cx="41.60" cy="98.20" r="0.7"/><circle cx="41.24" cy="100.22" r="0.7"/><circle cx="40.22" cy="101.99" r="0.7"/><circle cx="38.65" cy="103.31" r="0.7"/><circle cx="36.72" cy="104.01" r="0.7"/><circle cx="34.68" cy="104.01" r="0.7"/><circle cx="32.75" cy="103.31" r="0.7"/><circle cx="31.18" cy="101.99" r="0.7"/><circle cx="30.16" cy="100.22" r="0.7"/><circle cx="29.80" cy="98.20" r="0.7"/><circle cx="30.16" cy="96.18" r="0.7"/><circle cx="31.18" cy="94.41" r="0.7"/><circle cx="32.75" cy="93.09" r="0.7"/><circle cx="34.68" cy="92.39" r="0.7"/><circle cx="36.72" cy="92.39" r="0.7"/><circle cx="38.65" cy="93.09" r="0.7"/><circle cx="40.22" cy="94.41" r="0.7"/><circle cx="41.24" cy="96.18" r="0.7"/><circle cx="39.72" cy="99.01" r="0.5" opacity="0.75"/><circle cx="38.77" cy="100.91" r="0.5" opacity="0.75"/><circle cx="37.00" cy="102.09" r="0.5" opacity="0.75"/><circle cx="34.89" cy="102.22" r="0.5" opacity="0.75"/><circle cx="32.99" cy="101.27" r="0.5" opacity="0.75"/><circle cx="31.81" cy="99.50" r="0.5" opacity="0.75"/><circle cx="31.68" cy="97.39" r="0.5" opacity="0.75"/><circle cx="32.63" cy="95.49" r="0.5" opacity="0.75"/><circle cx="34.40" cy="94.31" r="0.5" opacity="0.75"/><circle cx="36.51" cy="94.18" r="0.5" opacity="0.75"/><circle cx="38.41" cy="95.13" r="0.5" opacity="0.75"/><circle cx="39.59" cy="96.90" r="0.5" opacity="0.75"/></g>
</svg>
<span class="t" style="left:29.9px;top:156px;font-family:'Liberation Serif',serif;font-weight:700;font-size:11px;color:#2a2c31;letter-spacing:-0.3px;transform:scale(0.56,1);transform-origin:0 0;">WSJ</span>
<span class="t" style="left:49.6px;top:11px;font-size:13.3px;color:#8a93a5;letter-spacing:0.157px;-webkit-text-stroke:0.25px #8a93a5;">The New York Times</span>
<span class="t" style="left:178.6px;top:11px;font-size:13.3px;color:#aab1be;-webkit-text-stroke:0.6px #aab1be;">·</span>
<span class="t" style="left:188.6px;top:11px;font-size:13.3px;color:#aab1be;transform:scaleX(1.0327);-webkit-text-stroke:0.25px #aab1be;">4d ago</span>
<span class="t" style="left:29.8px;top:35px;font-size:14.85px;color:#23262e;letter-spacing:0.016px;-webkit-text-stroke:0.25px #23262e;">Tehran and Trump Send Mixed Signals Ahead of</span>
<span class="t" style="left:29.0px;top:52px;font-size:14.85px;color:#23262e;letter-spacing:0.060px;-webkit-text-stroke:0.25px #23262e;">Potential Talks</span>
<span class="t" style="left:50.0px;top:91px;font-size:13.3px;color:#8a93a5;letter-spacing:-0.327px;-webkit-text-stroke:0.25px #8a93a5;">Reuters</span>
<span class="t" style="left:99.3px;top:91px;font-size:13.3px;color:#aab1be;-webkit-text-stroke:0.6px #aab1be;">·</span>
<span class="t" style="left:108.9px;top:91px;font-size:13.3px;color:#aab1be;letter-spacing:0.106px;-webkit-text-stroke:0.25px #aab1be;">3d ago</span>
<span class="t" style="left:29.0px;top:115px;font-size:14.85px;color:#23262e;letter-spacing:0.027px;-webkit-text-stroke:0.25px #23262e;">Pakistan PM welcomes US-Iran ceasefire extension</span>
<span class="t" style="left:49.6px;top:154px;font-size:13.3px;color:#8a93a5;letter-spacing:-0.500px;-webkit-text-stroke:0.25px #8a93a5;">WSJ</span>
<span class="t" style="left:81.5px;top:154px;font-size:13.3px;color:#aab1be;-webkit-text-stroke:0.6px #aab1be;">·</span>
<span class="t" style="left:90.4px;top:154px;font-size:13.3px;color:#aab1be;transform:scaleX(1.0327);-webkit-text-stroke:0.25px #aab1be;">5d ago</span>
<span class="t" style="left:29.8px;top:178px;font-size:14.85px;color:#23262e;letter-spacing:-0.035px;-webkit-text-stroke:0.25px #23262e;">Trump Says Iran Talks Are On, Sparking Push to Bridge</span>
<span class="t" style="left:29.8px;top:195px;font-size:14.85px;color:#23262e;letter-spacing:-0.004px;-webkit-text-stroke:0.25px #23262e;">Gaping Divide</span>
</div></div>
</body>
</html>
